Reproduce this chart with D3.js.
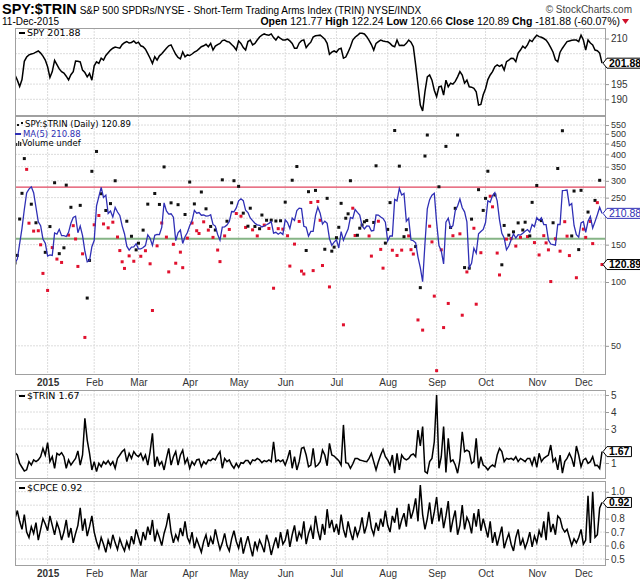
<!DOCTYPE html>
<html lang="en">
<head>
<meta charset="UTF-8">
<title>SPY:$TRIN</title>
<script src="https://cdn.jsdelivr.net/npm/d3@7"></script>
<style>
  body { margin: 0; background: #fff; }
</style>
</head>
<body>
<script>
// daily closes, 11-Dec-2014 .. 11-Dec-2015
const spy = [
  198.0, 196.3, 194.2, 196.5, 202.5, 203.9, 204.6, 204.9, 205.1, 205.5,
  205.9, 205.2, 204.2, 202.9, 200.7, 197.2, 199.1, 202.8, 201.4, 200.0,
  199.1, 198.6, 197.6, 196.4, 198.1, 199.1, 202.6, 202.5, 202.3, 199.6,
  198.8, 197.4, 198.5, 196.3, 201.0, 202.3, 201.8, 203.5, 202.9, 204.4,
  205.3, 206.2, 206.8, 207.2, 207.0, 206.8, 208.0, 208.6, 209.0, 208.5,
  208.7, 209.2, 208.4, 208.8, 207.6, 207.3, 206.5, 205.0, 203.5, 201.8,
  204.0, 202.9, 204.3, 205.0, 205.9, 206.8, 207.6, 207.9, 206.3, 204.8,
  203.8, 203.3, 205.6, 204.0, 204.6, 204.4, 204.9, 205.5, 205.9, 206.6,
  207.3, 207.6, 208.1, 207.3, 208.4, 206.2, 207.5, 208.0, 208.4, 209.3,
  209.5, 209.0, 208.8, 208.0, 207.3, 206.2, 209.2, 208.4, 207.0, 206.2,
  209.0, 209.5, 207.9, 208.4, 209.5, 210.5, 211.1, 211.5, 211.2, 211.1,
  211.5, 210.3, 209.5, 210.6, 210.0, 209.5, 209.5, 209.8, 209.2, 208.4,
  206.8, 206.8, 208.5, 209.3, 209.5, 207.0, 208.0, 208.8, 210.5, 210.9,
  211.0, 211.1, 210.5, 209.8, 208.4, 204.8, 205.5, 205.9, 205.5, 206.5,
  206.8, 203.5, 203.9, 205.5, 207.3, 209.5, 210.4, 211.0, 211.7, 211.7,
  211.5, 210.6, 209.4, 208.0, 206.2, 208.4, 209.0, 209.5, 209.2, 209.0,
  208.9, 208.4, 207.6, 207.3, 209.5, 207.7, 207.8, 207.7, 208.4, 209.5,
  208.8, 207.3, 201.3, 194.7, 188.1, 186.2, 192.5, 197.4, 198.0, 196.3,
  193.0, 190.9, 194.1, 194.3, 191.4, 196.3, 194.1, 195.3, 195.0, 195.9,
  197.4, 199.1, 198.0, 195.3, 196.3, 194.1, 194.0, 193.6, 192.5, 188.1,
  188.3, 191.5, 193.5, 196.5, 198.0, 199.1, 200.7, 201.3, 200.8, 201.3,
  199.6, 202.4, 202.9, 203.5, 203.4, 202.4, 205.2, 206.2, 207.5, 206.8,
  207.9, 209.5, 209.0, 210.2, 211.1, 210.6, 210.4, 210.0, 209.5, 208.4,
  207.0, 205.5, 203.0, 202.4, 205.5, 206.8, 207.9, 209.0, 209.2, 209.4,
  209.5, 209.5, 209.0, 211.1, 209.5, 206.2, 209.5, 208.5, 207.9, 206.2,
  206.0, 205.2, 201.88
];

const trin = [
  1.61, 1.47, 0.98, 0.75, 0.53, 0.60, 1.08, 0.88, 1.18, 1.08,
  1.18, 1.37, 1.86, 1.47, 2.20, 1.08, 1.37, 0.69, 1.57, 1.47,
  1.61, 1.37, 0.69, 1.18, 0.88, 1.08, 1.27, 1.71, 0.88, 1.47,
  3.63, 2.35, 1.57, 0.59, 1.08, 0.49, 0.98, 0.78, 1.08, 0.94,
  1.14, 0.88, 1.08, 0.69, 1.27, 1.47, 1.67, 1.80, 1.08, 1.57,
  1.27, 1.67, 1.47, 1.37, 1.57, 1.18, 1.47, 0.88, 1.67, 2.75,
  0.78, 1.37, 0.88, 1.08, 0.59, 1.27, 1.86, 0.88, 1.37, 1.67,
  0.88, 1.47, 1.76, 0.98, 1.27, 0.69, 1.08, 0.88, 1.18, 1.22,
  0.78, 1.08, 0.94, 1.18, 1.14, 1.27, 1.18, 1.47, 1.67, 0.69,
  1.27, 1.08, 1.18, 0.88, 0.69, 0.98, 0.74, 1.02, 0.98, 1.14,
  1.14, 0.94, 1.18, 1.14, 1.27, 1.18, 1.02, 1.14, 1.08, 1.18,
  1.08, 2.25, 1.08, 1.18, 1.08, 1.18, 0.88, 1.27, 1.76, 0.69,
  1.37, 0.59, 1.08, 1.86, 1.92, 1.47, 0.78, 0.88, 1.86, 0.78,
  0.88, 1.08, 1.76, 1.47, 0.84, 2.16, 1.47, 1.41, 1.27, 1.14,
  0.88, 3.24, 1.02, 0.98, 0.69, 0.94, 1.27, 1.27, 1.18, 1.14,
  1.10, 1.08, 1.27, 1.57, 1.08, 0.59, 1.08, 1.47, 1.80, 1.37,
  1.18, 0.88, 1.47, 0.40, 1.57, 0.59, 1.47, 1.27, 1.18, 1.27,
  1.47, 1.53, 1.37, 2.94, 2.00, 3.14, 0.49, 0.40, 1.08, 1.27,
  2.25, 5.00, 0.69, 1.37, 3.14, 0.45, 2.45, 1.08, 1.18, 0.88,
  0.40, 1.18, 2.84, 1.67, 1.76, 1.67, 0.98, 1.08, 2.45, 0.69,
  1.37, 0.88, 0.78, 0.59, 0.78, 0.88, 0.78, 1.47, 1.86, 1.67,
  1.08, 1.27, 1.22, 1.27, 1.18, 1.37, 1.08, 1.27, 1.18, 1.08,
  1.27, 1.27, 0.88, 1.37, 0.74, 1.57, 1.08, 1.27, 1.37, 1.47,
  2.06, 1.08, 1.27, 0.59, 1.47, 0.40, 1.08, 1.27, 1.57, 1.27,
  0.78, 2.00, 1.47, 0.78, 1.18, 1.27, 0.98, 1.08, 1.37, 0.85,
  0.87, 0.68, 1.67
];

const cpce = [
  0.80, 0.86, 0.78, 0.72, 0.83, 0.70, 0.66, 0.74, 0.69, 0.77, 0.64, 0.72, 0.80, 0.76,
  0.71, 0.82, 0.75, 0.68, 0.77, 0.72, 0.64, 0.70, 0.79, 0.66, 0.73, 0.62, 0.69, 0.75, 0.88, 0.71, 0.80, 0.67, 0.74, 0.82,
  0.70, 0.63, 0.58, 0.66, 0.61, 0.55, 0.64, 0.59, 0.68, 0.62, 0.57, 0.65, 0.60, 0.56, 0.63, 0.58, 0.67, 0.61, 0.72,
  0.66, 0.60, 0.70, 0.64, 0.74, 0.68, 0.79, 0.63, 0.71, 0.66, 0.60, 0.69, 0.75, 0.84, 0.70, 0.62, 0.68, 0.64, 0.73, 0.67, 0.78, 0.66,
  0.62, 0.70, 0.58, 0.65, 0.60, 0.55, 0.63, 0.68, 0.59, 0.66, 0.61, 0.72, 0.64, 0.57, 0.62, 0.69, 0.60, 0.56, 0.65, 0.71, 0.63,
  0.58, 0.66, 0.54, 0.61, 0.67, 0.59, 0.52, 0.63, 0.57, 0.64, 0.60, 0.55, 0.68, 0.62, 0.53, 0.60, 0.66, 0.58, 0.70, 0.61,
  0.64, 0.72, 0.59, 0.68, 0.75, 0.63, 0.70, 0.66, 0.78, 0.61, 0.69, 0.74, 0.65, 0.82, 0.71, 0.64, 0.76, 0.68, 0.87, 0.73, 0.79, 0.70,
  0.76, 0.68, 0.83, 0.72, 0.66, 0.78, 0.70, 0.64, 0.74, 0.67, 0.72, 0.81, 0.69, 0.75, 0.85, 0.73, 0.68, 0.77, 0.71, 0.80, 0.74, 0.86,
  0.75, 0.70, 0.82, 0.77, 0.88, 0.72, 0.79, 0.84, 0.74, 0.91, 0.80, 0.86, 0.95, 0.78, 1.05, 0.83, 0.72, 0.80, 0.92, 0.76, 0.85,
  0.96, 0.78, 0.88, 0.73, 0.82, 0.93, 0.70, 0.79, 0.86, 0.68, 0.75, 0.90, 0.72, 0.81, 0.77, 0.69, 0.84, 0.74, 0.87, 0.71, 0.80,
  0.73, 0.66, 0.78, 0.62, 0.70, 0.60, 0.67, 0.74, 0.58, 0.64, 0.69, 0.61, 0.56, 0.66, 0.72, 0.60, 0.65, 0.58, 0.63, 0.70, 0.59, 0.67,
  0.62, 0.71, 0.66, 0.78, 0.64, 0.85, 0.70, 0.76, 0.68, 0.82, 0.80, 0.73, 0.70, 0.72, 0.66, 0.60, 0.65, 0.62, 0.66, 0.72,
  0.61, 0.64, 0.97, 0.62, 1.00, 0.66, 0.68, 0.88, 0.92
];

const monthLabels = ['2015', 'Feb', 'Mar', 'Apr', 'May', 'Jun', 'Jul', 'Aug', 'Sep', 'Oct', 'Nov', 'Dec'];
const spyTicks = [190, 195, 200, 205, 210];
const ratioTicks = [50, 100, 150, 200, 250, 300, 350, 400, 450, 500, 550];
const trinTicks = [1, 2, 3, 4, 5];
const cpceTicks = [0.5, 0.6, 0.7, 0.8, 0.9, 1.0];
const bandLevels = [280, 160];   // red / green reference lines
const holidays = ['2014-12-25', '2015-01-01', '2015-01-19', '2015-02-16', '2015-04-03',
                  '2015-05-25', '2015-07-03', '2015-09-07', '2015-11-26'];

// trading days
let fmt = d3.timeFormat('%Y-%m-%d');
let dates = [];
for (let d = new Date(2014, 11, 11); d <= new Date(2015, 11, 11); d.setDate(d.getDate() + 1)) {
    let wd = d.getDay();
    if (wd !== 0 && wd !== 6 && holidays.indexOf(fmt(d)) < 0) dates.push(fmt(d));
}
let monthStarts = dates.filter((d, i) => i > 0 && d.slice(5, 7) !== dates[i - 1].slice(5, 7));

// SPY:$TRIN and its 5 day average
let ratio = spy.map((v, i) => v / trin[i]);
let ma5 = ratio.map((v, i) => d3.mean(ratio.slice(Math.max(0, i - 4), i + 1)));

const L = 15, R = 606;
const sans = '"Liberation Sans", Arial, sans-serif';
const legendFont = '"DejaVu Sans", Verdana, sans-serif';

let svg = d3.select('body').append('svg').attr('width', 640).attr('height', 584);

let x = d3.scalePoint().domain(dates).range([15, 602]);
let xi = (d, i) => x(dates[i]);

let panels = [
    { id: 'p1', top: 28, bottom: 115, y: d3.scaleLinear().domain([190, 210]).range([99.3, 38.5]), ticks: spyTicks, f: d3.format('d'), fs: 10 },
    { id: 'p2', top: 116, bottom: 374, y: d3.scaleLog().domain([100, 1000]).range([282, 70]), ticks: ratioTicks, f: d3.format('d'), fs: 9 },
    { id: 'p3', top: 390, bottom: 478, y: d3.scaleLinear().domain([0, 5]).range([480, 395]), ticks: trinTicks, f: d3.format('d'), fs: 10 },
    { id: 'p4', top: 481, bottom: 565, y: d3.scaleLinear().domain([0.5, 1.0]).range([559, 491.7]), ticks: cpceTicks, f: d3.format('.1f'), fs: 10 }
];

// where the last-value tags sit (their tick labels are covered)
panels[0].tags = [spy[spy.length - 1]];
panels[1].tags = [ma5[ma5.length - 1], ratio[ratio.length - 1]];
panels[2].tags = [trin[trin.length - 1]];
panels[3].tags = [cpce[cpce.length - 1]];

panels.forEach(p => {
    svg.append('clipPath').attr('id', p.id).append('rect')
        .attr('x', L).attr('y', p.top).attr('width', R - L).attr('height', p.bottom - p.top);
    let g = svg.append('g');
    g.selectAll('.vg').data(monthStarts).enter().append('line')
        .attr('x1', d => x(d)).attr('x2', d => x(d))
        .attr('y1', p.top).attr('y2', p.bottom)
        .attr('stroke', '#dcdcdc').attr('stroke-dasharray', '2,1');
    g.selectAll('.hg').data(p.ticks).enter().append('line')
        .attr('x1', L).attr('x2', R)
        .attr('y1', d => p.y(d)).attr('y2', d => p.y(d))
        .attr('stroke', '#dcdcdc').attr('stroke-dasharray', '2,1');
    let shown = p.ticks.filter(t => p.tags.every(v => Math.abs(p.y(t) - p.y(v)) > 9.5));
    let ax = svg.append('g').attr('transform', `translate(${R},0)`)
        .call(d3.axisRight(p.y).tickValues(shown).tickFormat(p.f).tickSize(3).tickPadding(2));
    ax.select('.domain').remove();
    ax.selectAll('line').attr('stroke', '#999');
    ax.selectAll('text').attr('font-family', sans).attr('font-size', p.fs).attr('fill', '#333');
});

// reference lines on the ratio panel
svg.append('g').attr('clip-path', 'url(#p2)').selectAll('line').data(bandLevels).enter().append('line')
    .attr('x1', L).attr('x2', R)
    .attr('y1', d => panels[1].y(d)).attr('y2', d => panels[1].y(d))
    .attr('stroke', (d, i) => i === 0 ? '#e0455e' : '#86b486')
    .attr('stroke-width', (d, i) => i === 0 ? 1.3 : 1.8);

// SPY
svg.append('path').datum(spy).attr('clip-path', 'url(#p1)')
    .attr('d', d3.line().x(xi).y(d => panels[0].y(d)))
    .attr('fill', 'none').attr('stroke', '#000').attr('stroke-width', 1.5);

// ratio dots
svg.append('g').attr('clip-path', 'url(#p2)').selectAll('rect').data(ratio).enter().append('rect')
    .attr('x', (d, i) => xi(d, i) - 1.5).attr('y', d => panels[1].y(d) - 1.5)
    .attr('width', 3).attr('height', 3)
    .attr('fill', (d, i) => i > 0 && d < ratio[i - 1] ? '#e0112e' : '#111');

// MA(5)
svg.append('path').datum(ma5).attr('clip-path', 'url(#p2)')
    .attr('d', d3.line().x(xi).y(d => panels[1].y(d)))
    .attr('fill', 'none').attr('stroke', '#2f2fb5').attr('stroke-width', 1.3);

// $TRIN
svg.append('path').datum(trin).attr('clip-path', 'url(#p3)')
    .attr('d', d3.line().x(xi).y(d => panels[2].y(d)))
    .attr('fill', 'none').attr('stroke', '#000').attr('stroke-width', 1.5);

// $CPCE
svg.append('path').datum(cpce).attr('clip-path', 'url(#p4)')
    .attr('d', d3.line().x(xi).y(d => panels[3].y(d)))
    .attr('fill', 'none').attr('stroke', '#000').attr('stroke-width', 1.5);

// panel borders
panels.forEach(p => {
    svg.append('rect').attr('x', L + 0.5).attr('y', p.top + 0.5)
        .attr('width', R - L - 1).attr('height', p.bottom - p.top)
        .attr('fill', 'none').attr('stroke', '#a0a0a0');
});

// month axes
[374, 565].forEach(yy => {
    let ax = svg.append('g').attr('transform', `translate(0,${yy})`)
        .call(d3.axisBottom(x).tickValues(monthStarts).tickFormat((d, i) => monthLabels[i]).tickSize(0).tickPadding(5));
    ax.select('.domain').remove();
    ax.selectAll('text').attr('font-family', sans).attr('font-size', 10).attr('fill', '#333')
        .attr('font-weight', (d, i) => i === 0 ? 'bold' : 'normal');
});

// last value tags
function tag(yPos, label, color, weight) {
    let g = svg.append('g');
    let t = g.append('text').attr('x', R + 3).attr('y', yPos).attr('dy', '0.36em')
        .attr('font-family', sans).attr('font-size', 10.5).attr('font-weight', weight)
        .attr('fill', color).text(label);
    let w = t.node().getComputedTextLength() + 3;
    let h = 10;
    g.insert('path', 'text')
        .attr('d', `M${R - 3},${yPos} L${R + 1},${yPos - h / 2} L${R + 2 + w},${yPos - h / 2} L${R + 2 + w},${yPos + h / 2} L${R + 1},${yPos + h / 2} Z`)
        .attr('fill', '#fff').attr('stroke', color);
}
tag(panels[0].y(panels[0].tags[0]), '201.88', '#000', 'bold');
tag(panels[1].y(panels[1].tags[0]), '210.88', '#2f2fb5', 'normal');
tag(panels[1].y(panels[1].tags[1]), '120.89', '#000', 'bold');
tag(panels[2].y(panels[2].tags[0]), '1.67', '#000', 'bold');
tag(panels[3].y(panels[3].tags[0]), '0.92', '#000', 'bold');

// legends
function legend(xx, yy, label, color) {
    svg.append('line').attr('x1', xx).attr('x2', xx + 6).attr('y1', yy).attr('y2', yy)
        .attr('stroke', color).attr('stroke-width', 2);
    svg.append('text').attr('x', xx + 8).attr('y', yy).attr('dy', '0.35em')
        .attr('font-family', legendFont).attr('font-size', 9.5).attr('fill', color).text(label);
}
legend(19, 33, 'SPY 201.88', '#000');
legend(19, 396, '$TRIN 1.67', '#000');
legend(19, 488, '$CPCE 0.92', '#000');

// ratio panel legend, three tight rows
function smallText(xx, yy, label, color) {
    svg.append('text').attr('x', xx).attr('y', yy).attr('dy', '0.35em')
        .attr('font-family', legendFont).attr('font-size', 8.5).attr('fill', color).text(label);
}
svg.append('rect').attr('x', 17).attr('y', 124).attr('width', 2).attr('height', 2).attr('fill', '#111');
svg.append('rect').attr('x', 21).attr('y', 122).attr('width', 2).attr('height', 2).attr('fill', '#111');
smallText(25, 124.5, 'SPY:$TRIN (Daily) 120.89', '#000');
svg.append('line').attr('x1', 15).attr('x2', 21).attr('y1', 134).attr('y2', 134)
    .attr('stroke', '#2f2fb5').attr('stroke-width', 2);
smallText(23, 134, 'MA(5) 210.88', '#2f2fb5');
[[16, 3], [18, 5], [20, 4]].forEach(b => {
    svg.append('rect').attr('x', b[0]).attr('y', 146 - b[1]).attr('width', 1.3).attr('height', b[1]).attr('fill', '#333');
});
smallText(22, 143.5, 'Volume undef', '#000');

// header
let title = svg.append('text').attr('x', 2).attr('y', 14).attr('font-family', sans).attr('fill', '#000');
title.append('tspan').attr('font-size', 14.5).attr('font-weight', 'bold').text('SPY:$TRIN');
title.append('tspan').attr('font-size', 10).attr('dx', 3).text('S&P 500 SPDRs/NYSE - Short-Term Trading Arms Index (TRIN) NYSE/INDX');

svg.append('text').attr('x', 632).attr('y', 13).attr('text-anchor', 'end')
    .attr('font-family', sans).attr('font-size', 10).attr('fill', '#444').text('\u00A9 StockCharts.com');

svg.append('text').attr('x', 2).attr('y', 25).attr('font-family', sans).attr('font-size', 10)
    .attr('fill', '#000').text('11-Dec-2015');

let quote = [['Open', '121.77'], ['High', '122.24'], ['Low', '120.66'], ['Close', '120.89'], ['Chg', '-181.88 (-60.07%)']];
let qt = svg.append('text').attr('x', 620).attr('y', 25).attr('text-anchor', 'end')
    .attr('font-family', sans).attr('font-size', 10.5).attr('fill', '#000');
quote.forEach((q, i) => {
    qt.append('tspan').attr('font-weight', 'bold').text((i ? ' ' : '') + q[0]);
    qt.append('tspan').text(' ' + q[1]);
});
svg.append('path').attr('d', 'M622,19 L629,19 L625.5,24 Z').attr('fill', '#d0102a');
</script>
</body>
</html>
